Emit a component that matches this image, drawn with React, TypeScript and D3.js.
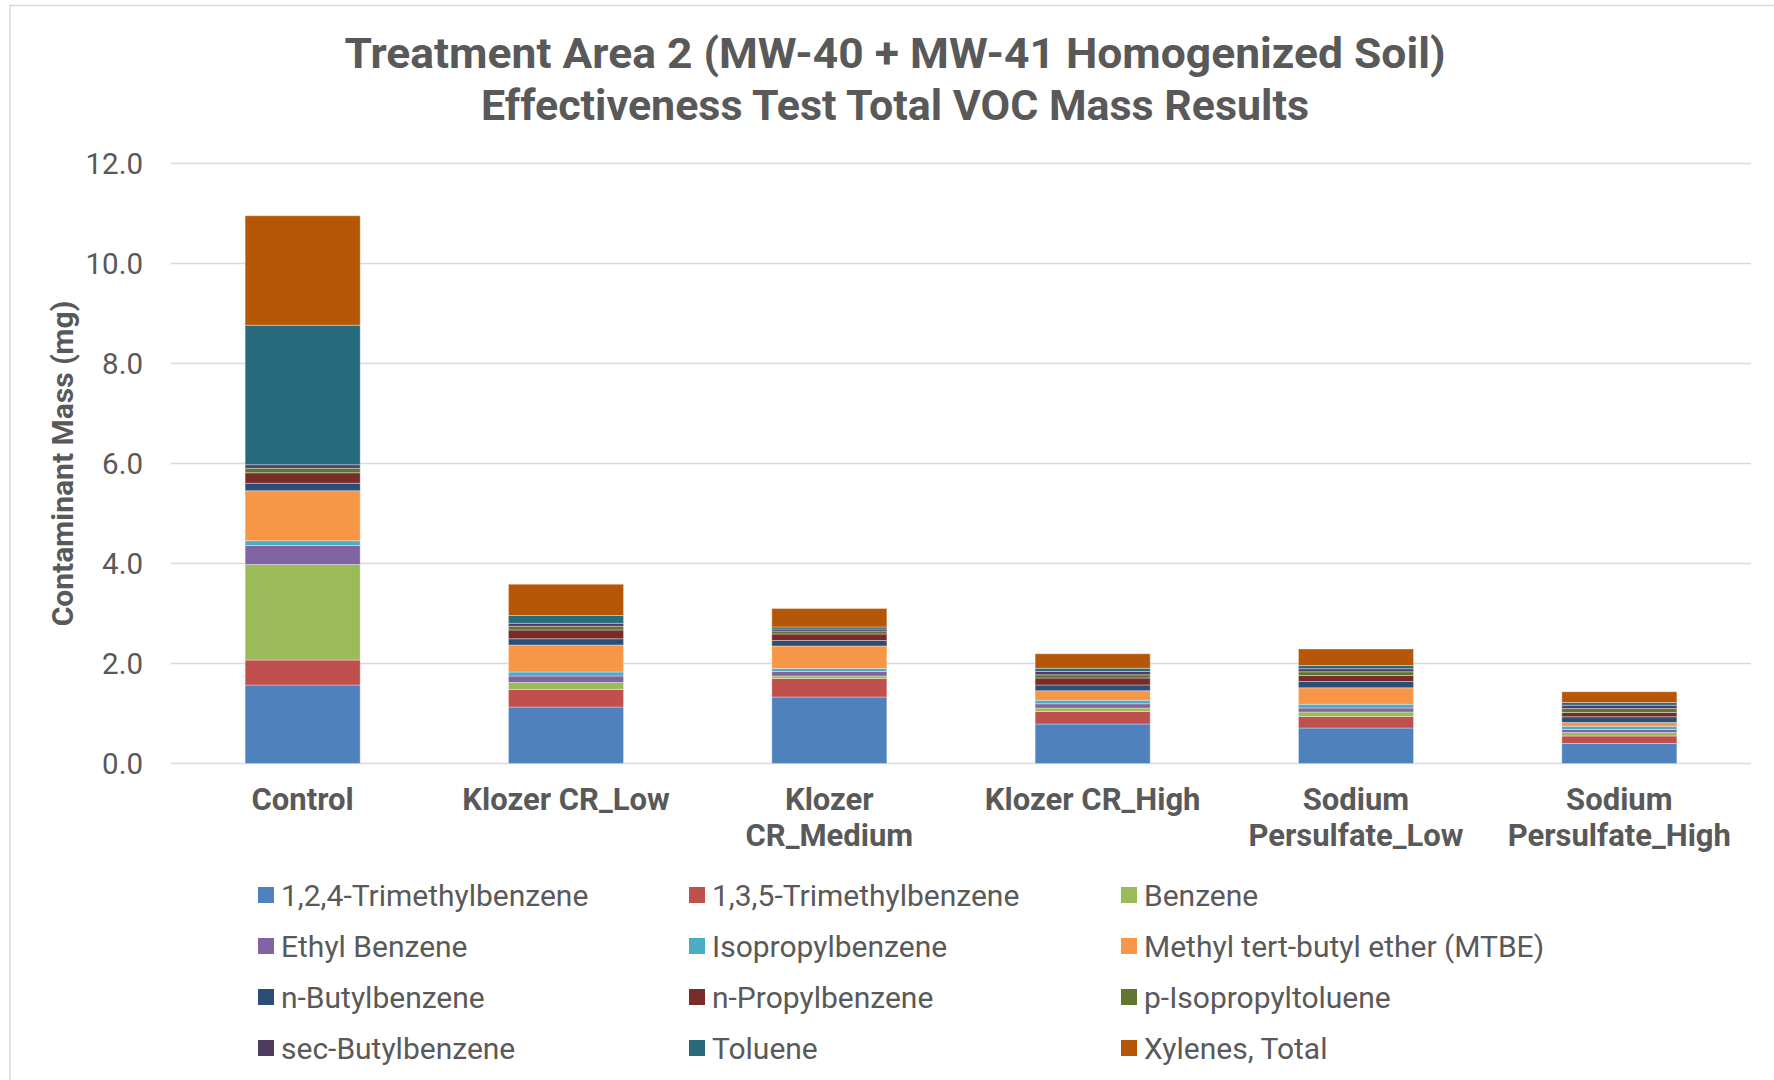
import React from "react";
import { scaleBand, scaleLinear, stack } from "d3";

const width = 1774;
const height = 1080;

// plot area in page pixels
const plot = { left: 171, right: 1751, top: 163.5, bottom: 763.5 };

const categories = [
  "Control",
  "Klozer CR_Low",
  "Klozer CR_Medium",
  "Klozer CR_High",
  "Sodium Persulfate_Low",
  "Sodium Persulfate_High",
];

// how each category label is broken onto lines
const categoryLines = [
  ["Control"],
  ["Klozer CR_Low"],
  ["Klozer", "CR_Medium"],
  ["Klozer CR_High"],
  ["Sodium", "Persulfate_Low"],
  ["Sodium", "Persulfate_High"],
];

const seriesNames = [
  "1,2,4-Trimethylbenzene",
  "1,3,5-Trimethylbenzene",
  "Benzene",
  "Ethyl Benzene",
  "Isopropylbenzene",
  "Methyl tert-butyl ether (MTBE)",
  "n-Butylbenzene",
  "n-Propylbenzene",
  "p-Isopropyltoluene",
  "sec-Butylbenzene",
  "Toluene",
  "Xylenes, Total",
];

const seriesColors = [
  "#4F81BD",
  "#C0504D",
  "#9BBB59",
  "#8064A2",
  "#4BACC6",
  "#F79646",
  "#2C4D75",
  "#772C2A",
  "#5F7530",
  "#4D3B62",
  "#276A7C",
  "#B65708",
];

// values in mg, one per category (same order as categories)
const trimethylbenzene124 = [1.57, 1.13, 1.33, 0.79, 0.71, 0.4];
const trimethylbenzene135 = [0.5, 0.35, 0.37, 0.25, 0.23, 0.15];
const benzene = [1.91, 0.14, 0.05, 0.07, 0.09, 0.07];
const ethylBenzene = [0.38, 0.13, 0.09, 0.085, 0.08, 0.06];
const isopropylbenzene = [0.095, 0.08, 0.06, 0.07, 0.075, 0.065];
const mtbe = [1.0, 0.54, 0.45, 0.19, 0.33, 0.075];
const nButylbenzene = [0.15, 0.125, 0.11, 0.115, 0.125, 0.115];
const nPropylbenzene = [0.21, 0.175, 0.13, 0.14, 0.12, 0.085];
const pIsopropyltoluene = [0.09, 0.075, 0.06, 0.065, 0.075, 0.08];
const secButylbenzene = [0.07, 0.06, 0.04, 0.065, 0.06, 0.065];
const toluene = [2.79, 0.155, 0.04, 0.065, 0.065, 0.055];
const xylenes = [2.19, 0.625, 0.37, 0.29, 0.33, 0.215];

const seriesValues = [
  trimethylbenzene124,
  trimethylbenzene135,
  benzene,
  ethylBenzene,
  isopropylbenzene,
  mtbe,
  nButylbenzene,
  nPropylbenzene,
  pIsopropyltoluene,
  secButylbenzene,
  toluene,
  xylenes,
];

const yTicks = [0, 2, 4, 6, 8, 10, 12];

const titleLines = [
  "Treatment Area 2 (MW-40 + MW-41 Homogenized Soil)",
  "Effectiveness Test Total VOC Mass Results",
];
// measured widths of the title lines in the original
const titleWidths = [1101, 828];

const textColor = "#595959";
const font = "Roboto, 'Open Sans', sans-serif";

// rows for d3.stack
const table = categories.map((c, i) => {
  const row: Record<string, any> = { category: c };
  seriesNames.forEach((s, j) => {
    row[s] = seriesValues[j][i];
  });
  return row;
});

const App = () => {
  const xScale = scaleBand<string>()
    .domain(categories)
    .range([plot.left, plot.right])
    .paddingInner(0.563)
    .paddingOuter(0.2815);

  const yScale = scaleLinear().domain([0, 12]).range([plot.bottom, plot.top]);

  const layers = stack<any>().keys(seriesNames)(table);

  return (
    <svg
      width={width}
      height={height}
      style={{ position: "absolute", left: 0, top: 0, background: "#fff" }}
      fontFamily={font}
    >
      {/* chart frame */}
      <rect
        x={10}
        y={5.5}
        width={width + 20}
        height={height + 20}
        fill="none"
        stroke="#d9d9d9"
        strokeWidth={1.5}
      />

      {titleLines.map((t, i) => (
        <text
          key={t}
          x={895}
          y={53 + i * 52}
          textAnchor="middle"
          dominantBaseline="central"
          fontSize={42}
          fontWeight="bold"
          fill={textColor}
          textLength={titleWidths[i]}
          lengthAdjust="spacingAndGlyphs"
        >
          {t}
        </text>
      ))}

      {/* gridlines and y tick labels */}
      {yTicks.map((t) => (
        <g key={t}>
          <line
            x1={plot.left}
            x2={plot.right}
            y1={yScale(t)}
            y2={yScale(t)}
            stroke="#d9d9d9"
            strokeWidth={1.5}
          />
          <text
            x={143}
            y={yScale(t)}
            textAnchor="end"
            dominantBaseline="central"
            fontSize={29.5}
            fill={textColor}
          >
            {t.toFixed(1)}
          </text>
        </g>
      ))}

      <text
        transform={`translate(62,${(plot.top + plot.bottom) / 2}) rotate(-90)`}
        textAnchor="middle"
        dominantBaseline="central"
        fontSize={30}
        fontWeight="bold"
        fill={textColor}
      >
        Contaminant Mass (mg)
      </text>

      {/* stacked bars */}
      {layers.map((layer, j) => (
        <g key={layer.key} fill={seriesColors[j]}>
          {layer.map((d) => (
            <rect
              key={d.data.category}
              x={xScale(d.data.category)}
              width={xScale.bandwidth()}
              y={yScale(d[1])}
              height={yScale(d[0]) - yScale(d[1])}
              stroke="rgba(255,255,255,0.35)"
              strokeWidth={1}
            />
          ))}
        </g>
      ))}

      {/* category labels */}
      {categories.map((c, i) => (
        <text
          key={c}
          x={(xScale(c) as number) + xScale.bandwidth() / 2}
          textAnchor="middle"
          fontSize={31}
          fontWeight="bold"
          fill={textColor}
        >
          {categoryLines[i].map((l, k) => (
            <tspan
              key={l}
              x={(xScale(c) as number) + xScale.bandwidth() / 2}
              y={799 + k * 36}
              dominantBaseline="central"
            >
              {l}
            </tspan>
          ))}
        </text>
      ))}

      {/* legend: 3 columns, 4 rows */}
      {seriesNames.map((s, j) => {
        const col = j % 3;
        const row = Math.floor(j / 3);
        const sx = [258, 689, 1121][col];
        const cy = 895 + row * 51;
        return (
          <g key={s}>
            <rect x={sx} y={cy - 8} width={16} height={16} fill={seriesColors[j]} />
            <text
              x={sx + 23}
              y={cy}
              dominantBaseline="central"
              fontSize={30}
              fill={textColor}
            >
              {s}
            </text>
          </g>
        );
      })}
    </svg>
  );
};

export default App;
